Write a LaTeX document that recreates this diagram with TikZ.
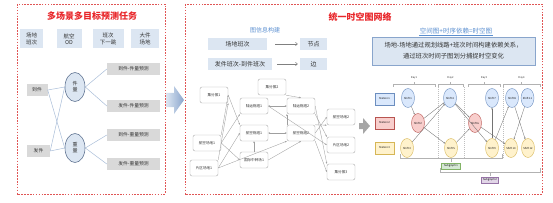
\documentclass[tikz,border=0pt]{standalone}
\usepackage{fontspec}
\setmainfont{Noto Sans CJK SC}
\usetikzlibrary{arrows.meta,shapes.geometric,shadows}
\definecolor{panelred}{HTML}{E05555}
\definecolor{titlered}{HTML}{E8262A}
\definecolor{lblue}{HTML}{DCE6F2}
\definecolor{lgrey}{HTML}{D9D9D9}
\definecolor{ovalline}{HTML}{5F7391}
\definecolor{linecol}{HTML}{A9BDD8}
\definecolor{darktext}{HTML}{333333}
\definecolor{midblue}{HTML}{5B8FD0}
\definecolor{sblue}{HTML}{DAE8FC}\definecolor{sblueb}{HTML}{6C8EBF}
\definecolor{sred}{HTML}{F8CECC}\definecolor{sredb}{HTML}{B85450}
\definecolor{syel}{HTML}{FFF2CC}\definecolor{syelb}{HTML}{D6B656}
\definecolor{sgrn}{HTML}{D5E8D4}\definecolor{sgrnb}{HTML}{82B366}
\definecolor{spur}{HTML}{E1D5E7}\definecolor{spurb}{HTML}{9673A6}
\begin{document}
\begin{tikzpicture}[x=1pt,y=-1pt,
  panel/.style={draw=panelred, dash pattern=on 1.6pt off 1.3pt, line width=0.6pt},
  ttl/.style={text=titlered, font=\fontsize{9}{10}\selectfont\bfseries, inner sep=0pt},
  bbox/.style={fill=lblue, inner sep=0pt, align=center, text=darktext, font=\fontsize{5.5}{6.6}\selectfont},
  gbox/.style={fill=lgrey, inner sep=0pt, minimum height=12pt, text=darktext, font=\fontsize{4.8}{5.5}\selectfont},
  oval/.style={ellipse, draw=ovalline, fill=lblue, line width=0.6pt, minimum width=20pt, minimum height=29pt, inner sep=0pt, align=center, text=darktext, font=\fontsize{5}{6}\selectfont},
  lline/.style={draw=linecol, line width=0.5pt},
  mbox/.style={fill=lblue, inner sep=0pt, minimum height=12pt, text=darktext, font=\fontsize{6}{7}\selectfont},
  marrow/.style={draw=gray, line width=0.5pt, -{Straight Barb[length=2pt,width=3.5pt]}},
  gnode/.style={draw=gray!65, rounded corners=2pt, fill=white, minimum width=28pt, minimum height=16pt, inner sep=0pt, text=darktext, font=\fontsize{3.6}{4.2}\selectfont},
  garrow/.style={draw=gray!75, line width=0.35pt, -{Stealth[length=2pt,width=1.6pt]}},
  gdarrow/.style={draw=gray!75, line width=0.35pt, {Stealth[length=2pt,width=1.6pt]}-{Stealth[length=2pt,width=1.6pt]}},
  station/.style={minimum width=19pt, minimum height=12pt, inner sep=0pt, line width=0.4pt, font=\fontsize{2.6}{3}\selectfont},
  shiftn/.style={ellipse, minimum width=13pt, minimum height=19pt, inner sep=0pt, line width=0.4pt, font=\fontsize{2.6}{3}\selectfont},
  sarrow/.style={draw=gray!90!black, line width=0.35pt, -{Stealth[length=1.8pt,width=1.4pt]}},
  brk/.style={draw=gray!60, line width=0.4pt},
  tiny/.style={font=\fontsize{2.6}{3}\selectfont, text=darktext, inner sep=0pt}
]
\useasboundingbox (0,0) rectangle (553,203);

% ---------------- left panel ----------------
\draw[panel] (17,4) rectangle (165,194);
\node[ttl] (t1) at (92,16) {多场景多目标预测任务};
\node[bbox, minimum width=23pt, minimum height=19pt] (b1) at (31.5,39) {场地\\班次};
\node[bbox, minimum width=25pt, minimum height=19pt] (b2) at (69,39) {航空\\OD};
\node[bbox, minimum width=31pt, minimum height=19pt] (b3) at (108,39) {班次\\下一跳};
\node[bbox, minimum width=28pt, minimum height=19pt] (b4) at (145,39) {大件\\场地};

\node[gbox, minimum width=21pt] (dj) at (37,90) {到件};
\node[gbox, minimum width=23pt] (fj) at (38.5,151) {发件};
\node[oval] (jl) at (75,87) {件\\量};
\node[oval] (zl) at (75,148) {重\\量};
\node[gbox, minimum width=53pt] (r1) at (133.5,69) {到件-件量预测};
\node[gbox, minimum width=53pt] (r2) at (133.5,106) {发件-件量预测};
\node[gbox, minimum width=53pt] (r3) at (133.5,135) {到件-重量预测};
\node[gbox, minimum width=53pt] (r4) at (133.5,164) {发件-重量预测};
\draw[lline] (dj.east) -- (jl.west);
\draw[lline] (dj.east) -- (zl.west);
\draw[lline] (fj.east) -- (jl.west);
\draw[lline] (fj.east) -- (zl.west);
\draw[lline] (jl.east) -- (r1.west);
\draw[lline] (jl.east) -- (r2.west);
\draw[lline] (zl.east) -- (r3.west);
\draw[lline] (zl.east) -- (r4.west);

% big left arrow
\shade[left color=lblue, right color=sblueb!80] (166,93) -- (174,93) -- (174,86) -- (184,100) -- (174,114) -- (174,107) -- (166,107) -- cycle;

% ---------------- right big panel ----------------
\draw[panel] (185,4) rectangle (542,194);
\node[ttl] (t2) at (360,17) {统一时空图网络};

\node[text=midblue, font=\fontsize{6}{7}\selectfont, inner sep=0pt] (gi) at (265,30) {图信息构建};
\node[mbox, minimum width=59pt] (m1) at (237.5,44) {场地班次};
\node[mbox, minimum width=27pt] (n1) at (313.5,44) {节点};
\node[mbox, minimum width=64pt] (m2) at (240,64) {发件班次-到件班次};
\node[mbox, minimum width=27pt] (n2) at (313.5,64) {边};
\draw[marrow, shorten <=8pt, shorten >=2pt] (m1.east) -- (n1.west);
\draw[marrow, shorten <=5pt, shorten >=2pt] (m2.east) -- (n2.west);

% graph
\node[gnode] (j1) at (214,95) {集分拨1};
\node[gnode] (j2) at (272,87) {集分拨2};
\node[gnode] (l1) at (254,106) {陆运枢纽1};
\node[gnode] (l2) at (301,106) {陆运枢纽2};
\node[gnode] (h1) at (254,133) {航空枢纽1};
\node[gnode] (h2) at (301,133) {航空枢纽2};
\node[gnode] (a1) at (207,143) {航空场地1};
\node[gnode] (p1) at (204,168) {片区场地1};
\node[gnode] (g1) at (254,160) {国际中转场1};
\node[gnode] (a2) at (341,117) {航空场地2};
\node[gnode] (p2) at (341,145) {片区场地2};
\node[gnode] (j3) at (341,172) {集分拨3};

\draw[garrow] (j2.south east) -- (l2.north);
\draw[gdarrow] (l1.east) -- (l2.west);
\draw[gdarrow] (h1.east) -- (h2.west);
\draw[garrow] (a1.north east) -- (j1.east);
\draw[garrow] (p1.north east) -- (j1.south east);
\draw[garrow] (j1.east) -- (h1.north west);
\draw[garrow] (a1.east) -- (l1.south west);
\draw[garrow] (a1.east) -- (g1.west);
\draw[garrow] (p1.east) -- (h1.west);
\draw[garrow] (p1.east) -- (h2.south west);
\draw[garrow] (g1.north) -- (h1.south);
\draw[garrow] (g1.east) -- (h2.south);
\draw[garrow] (h2.north west) -- (l2.south west);
\draw[garrow] (l1.east) -- (p2.west);
\draw[garrow] (h2.east) -- (a2.west);
\draw[garrow] (l2.east) -- (j3.north west);
\draw[garrow] (h2.north east) -- (a2.south west);
\draw[garrow] (l2.south east) -- (p2.north west);
\draw[garrow] (h2.south east) -- (j3.west);

% grey arrow
\fill[gray!70] (359,123) -- (363,123) -- (363,118) -- (370,126) -- (363,134) -- (363,129) -- (359,129) -- cycle;

% spatio-temporal part
\node[text=midblue, font=\fontsize{6.5}{7.5}\selectfont, inner sep=0.6pt] (st) at (456,31) {空间图+时序依赖=时空图};
\draw[midblue, line width=0.4pt] (st.south west) -- (st.south east);
\node[fill=lblue, draw=sblueb!80, line width=0.8pt, minimum width=163pt, minimum height=28pt, inner sep=0pt, align=center, text=darktext, font=\fontsize{6.3}{11}\selectfont, drop shadow={opacity=0.25, shadow xshift=1pt, shadow yshift=-1pt}] (desc) at (453.5,51) {场地-场地通过规划线路+班次时间构建依赖关系，\\通过班次时间子图划分捕捉时空变化};

% day brackets
\foreach \xa/\xb/\lab in {393/435/Day1, 438/463/Day2, 468/500/Day3, 503/540/Day4}{
  \draw[brk] (\xa,87) -- (\xa,84) -- (\xb,84) -- (\xb,87);
  \draw[brk] ({(\xa+\xb)/2},84) -- ({(\xa+\xb)/2},82);
  \node[tiny] at ({(\xa+\xb)/2},78) {\lab};
}
\foreach \xx in {438,464,503}{
  \draw[gray!50, line width=0.3pt, dash pattern=on 1pt off 1pt] (\xx,87) -- (\xx,158);
}

\node[station, fill=sblue, draw=sblueb] (st1) at (384.5,99) {Station 1};
\node[station, fill=sred, draw=sredb] (st2) at (384.5,123) {Station 2};
\node[station, fill=syel, draw=syelb] (st3) at (384.5,148) {Station 3};

\node[shiftn, fill=sblue, draw=sblueb] (s1) at (408,98) {Shift 1};
\node[shiftn, fill=sblue, draw=sblueb] (s4) at (450,98) {Shift 4};
\node[shiftn, fill=sblue, draw=sblueb] (s7) at (492,98) {Shift 7};
\node[shiftn, fill=sblue, draw=sblueb] (s8) at (512,98) {Shift 8};
\node[shiftn, fill=sblue, draw=sblueb] (s11) at (527.5,98) {Shift 11};
\node[shiftn, fill=sred, draw=sredb] (s2) at (418,123) {Shift 2};
\node[shiftn, fill=sred, draw=sredb] (s6) at (475,123) {Shift 6};
\node[shiftn, fill=syel, draw=syelb] (s3) at (407,148) {Shift 3};
\node[shiftn, fill=syel, draw=syelb] (s5) at (451,148) {Shift 5};
\node[shiftn, fill=syel, draw=syelb] (s9) at (492,148) {Shift 9};
\node[shiftn, fill=syel, draw=syelb] (s10) at (511,148) {Shift 10};
\node[shiftn, fill=syel, draw=syelb] (s12) at (528,148) {Shift 12};

\draw[sarrow] (s1) -- (s2);
\draw[sarrow] (s2) -- (s4);
\draw[sarrow] (s3) -- (s4);
\draw[sarrow] (s2) -- (s5);
\draw[sarrow] (s4) -- (s6);
\draw[sarrow] (s4) -- (s9);
\draw[sarrow] (s5) -- (s6);
\draw[sarrow] (s6) -- (s10);
\draw[sarrow] (s9) -- (s7);
\draw[sarrow] (s9) -- (s8);
\draw[sarrow] (s11) -- (s10);
\draw[sarrow] (s8) -- (s12);

% subgraph brackets
\draw[brk] (400,154) -- (400,158) -- (502,158) -- (502,154);
\draw[brk] (451,158) -- (451,162);
\node[fill=sgrn, draw=sgrnb, line width=0.3pt, minimum width=19pt, minimum height=6pt, inner sep=0pt, font=\fontsize{2.6}{3}\selectfont] (sg1) at (451,166) {Subgraph 1};
\draw[brk] (440,168) -- (440,172) -- (540,172) -- (540,168);
\draw[brk] (490,172) -- (490,176);
\node[fill=spur, draw=spurb, line width=0.3pt, minimum width=17pt, minimum height=6pt, inner sep=0pt, font=\fontsize{2.6}{3}\selectfont] (sg2) at (490,180) {Subgraph 2};
\end{tikzpicture}
\end{document}
